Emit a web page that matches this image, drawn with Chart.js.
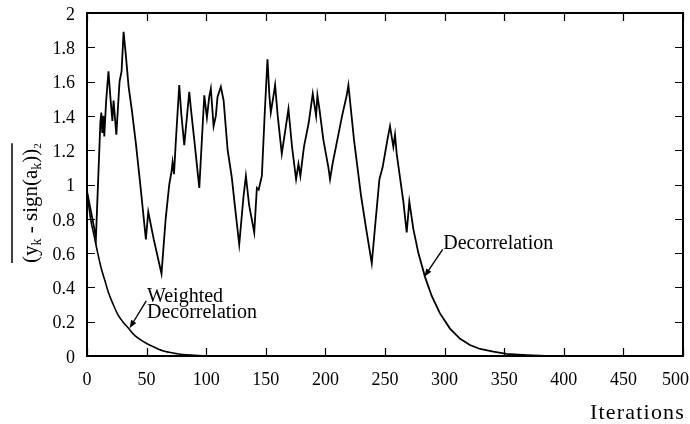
<!DOCTYPE html>
<html>
<head>
<meta charset="utf-8">
<script src="https://cdn.jsdelivr.net/npm/chart.js@4.4.0/dist/chart.umd.min.js"></script>
<style>
  html, body { margin: 0; padding: 0; background: #fff; }
  canvas { display: block; }
</style>
</head>
<body>
<canvas id="errCanvas" width="690" height="424"></canvas>
<script>
// tick values on both axes
var xTicks = [0, 50, 100, 150, 200, 250, 300, 350, 400, 450, 500];
var yTicks = [0, 0.2, 0.4, 0.6, 0.8, 1, 1.2, 1.4, 1.6, 1.8, 2];

// plain decorrelation run
var decorIter = [0, 4, 7.5, 9.5, 11.2, 12, 12.8, 13.8, 14.5, 16, 18, 19.5, 21.3, 22.3, 24.6, 27.3, 29, 30.7,
    32.5, 34.9, 37.7, 41, 45, 49.4, 51.4, 56, 62.5, 66, 69, 71, 71.8, 73, 74.5, 77.4, 79, 81.6, 85.8, 87.2,
    90, 94.2, 98.4, 100.6, 102.5, 103.9, 106.2, 108.1, 109.5, 112.3, 114.6, 118, 121.5, 124, 127.7, 131.3,
    133.3, 136, 140.3, 142.5, 144, 146.7, 149, 151.4, 153, 154.2, 156.5, 157.8, 160, 163.4, 166, 169, 172,
    175.4, 177.4, 179, 182, 186, 189.4, 192.2, 193.3, 195, 198.3, 202.5, 203.9, 206, 210, 214, 217.9, 219.3,
    224, 230, 234, 238.9, 242, 245.3, 248, 250, 252, 254.2, 257, 258.4, 259.8, 263, 265.4, 268.2, 270.4,
    273.8, 278, 283.6, 289.2, 296, 304.5, 313, 321.3, 329.7, 340.9, 352, 369, 385];
var decorErr = [0.96, 0.82, 0.69, 1.05, 1.36, 1.42, 1.30, 1.40, 1.28, 1.48, 1.66, 1.52, 1.37, 1.49, 1.29, 1.60, 1.66, 1.89,
    1.76, 1.57, 1.43, 1.24, 0.98, 0.68, 0.84, 0.68, 0.48, 0.80, 1.00, 1.08, 1.13, 1.06, 1.25, 1.58, 1.42, 1.23, 1.54, 1.44,
    1.26, 0.98, 1.52, 1.39, 1.51, 1.56, 1.34, 1.40, 1.51, 1.57, 1.49, 1.20, 1.04, 0.88, 0.65, 0.93,
    1.05, 0.88, 0.72, 0.98, 0.97, 1.05, 1.40, 1.73, 1.52, 1.42, 1.52, 1.58, 1.40, 1.18, 1.30, 1.44, 1.22,
    1.03, 1.12, 1.05, 1.22, 1.36, 1.53, 1.40, 1.52, 1.44, 1.26, 1.10, 1.03, 1.12, 1.26, 1.40, 1.52, 1.58,
    1.26, 0.93, 0.75, 0.54, 0.78, 1.03, 1.10, 1.18, 1.26, 1.34, 1.22, 1.29, 1.18, 1.02, 0.90, 0.72, 0.90,
    0.74, 0.60, 0.46, 0.35, 0.25, 0.16, 0.10, 0.064, 0.041, 0.025, 0.012, 0.005, 0];

// weighted decorrelation run
var weightedIter = [0, 3, 6, 9, 12, 15, 18, 22, 26, 30, 35, 40, 45, 50, 55, 60, 65, 70, 75, 80, 90, 100];
var weightedErr = [0.96, 0.80, 0.70, 0.60, 0.51, 0.44, 0.37, 0.30, 0.24, 0.20, 0.16, 0.12, 0.094, 0.073, 0.056,
    0.04, 0.028, 0.02, 0.014, 0.009, 0.004, 0];

var serif = "'Liberation Serif', 'Times New Roman', serif";

function toPoints(xs, ys) {
    return xs.map(function (x, i) { return { x: x, y: ys[i] }; });
}

// curve labels, anchored in data units
var notes = [
    { lines: ['Weighted', 'Decorrelation'], x: 50.3, y: 0.317, from: [49.7, 0.322], to: [35.7, 0.162] },
    { lines: ['Decorrelation'], x: 298.9, y: 0.622, from: [298.4, 0.622], to: [283, 0.462] }
];

function arrow(ctx, x1, y1, x2, y2) {
    var a = Math.atan2(y2 - y1, x2 - x1);
    var len = 8, half = 3;
    ctx.beginPath();
    ctx.moveTo(x1, y1);
    ctx.lineTo(x2 - Math.cos(a) * len * 0.8, y2 - Math.sin(a) * len * 0.8);
    ctx.stroke();
    ctx.beginPath();
    ctx.moveTo(x2, y2);
    ctx.lineTo(x2 - Math.cos(a) * len - Math.sin(a) * half, y2 - Math.sin(a) * len + Math.cos(a) * half);
    ctx.lineTo(x2 - Math.cos(a) * len + Math.sin(a) * half, y2 - Math.sin(a) * len - Math.cos(a) * half);
    ctx.closePath();
    ctx.fill();
}

// frame with inward ticks on all sides, x labels, curve notes and axis titles
var framePlugin = {
    id: 'frame',
    afterDraw: function (chart) {
        var ctx = chart.ctx;
        var xs = chart.scales.x, ys = chart.scales.y;
        var left = xs.getPixelForValue(0), right = xs.getPixelForValue(500);
        var top = ys.getPixelForValue(2), bottom = ys.getPixelForValue(0);
        var tick = 8;
        ctx.save();
        ctx.strokeStyle = '#000';
        ctx.fillStyle = '#000';
        ctx.lineWidth = 2;
        ctx.beginPath();
        ctx.moveTo(left, top);
        ctx.lineTo(right, top);
        ctx.lineTo(right, bottom);
        ctx.lineTo(left, bottom);
        ctx.closePath();
        ctx.stroke();

        ctx.lineWidth = 1.2;
        ctx.beginPath();
        xTicks.forEach(function (v) {
            var px = Math.round(xs.getPixelForValue(v)) + 0.5;
            ctx.moveTo(px, bottom); ctx.lineTo(px, bottom - tick);
            ctx.moveTo(px, top); ctx.lineTo(px, top + tick);
        });
        yTicks.forEach(function (v) {
            var py = Math.round(ys.getPixelForValue(v)) + 0.5;
            ctx.moveTo(left, py); ctx.lineTo(left + tick, py);
            ctx.moveTo(right, py); ctx.lineTo(right - tick, py);
        });
        ctx.stroke();

        // x tick labels, the last one kept inside the canvas
        ctx.font = '18px ' + serif;
        ctx.textAlign = 'center';
        ctx.textBaseline = 'middle';
        xTicks.forEach(function (v) {
            var t = String(v);
            var w = ctx.measureText(t).width;
            var px = Math.min(xs.getPixelForValue(v), chart.width - w / 2 - 1);
            ctx.fillText(t, px, 380);
        });

        // curve notes
        ctx.font = '20px ' + serif;
        ctx.textBaseline = 'alphabetic';
        ctx.textAlign = 'left';
        ctx.lineWidth = 1.4;
        notes.forEach(function (n) {
            var tx = xs.getPixelForValue(n.x), ty = ys.getPixelForValue(n.y);
            var lead = n.lines.length > 1 ? 16.6 : 0;
            n.lines.forEach(function (t, i) {
                ctx.fillText(t, tx, ty + i * lead);
            });
            arrow(ctx, xs.getPixelForValue(n.from[0]), ys.getPixelForValue(n.from[1]),
                xs.getPixelForValue(n.to[0]), ys.getPixelForValue(n.to[1]));
        });

        // x title
        ctx.font = '22px ' + serif;
        ctx.letterSpacing = '1.2px';
        ctx.fillText('Iterations', 590, 419);
        ctx.letterSpacing = '0px';

        // y title, rotated: overline over (y_k - sign(a_k))^2
        ctx.translate(37, 263);
        ctx.rotate(-Math.PI / 2);
        var cx = 0;
        function put(t, size, dy) {
            ctx.font = size + 'px ' + serif;
            ctx.fillText(t, cx, dy);
            cx += ctx.measureText(t).width;
        }
        put('(y', 21, 0);
        put('k', 14, 4);
        put(' - sign(a', 21, 0);
        put('k', 14, 4);
        put('))', 21, 0);
        put('2', 11, 4);
        ctx.lineWidth = 1.5;
        ctx.beginPath();
        ctx.moveTo(0, -25);
        ctx.lineTo(cx, -25);
        ctx.stroke();
        ctx.restore();
    }
};

new Chart(document.getElementById('errCanvas'), {
    type: 'line',
    data: {
        datasets: [
            {
                label: 'Decorrelation',
                data: toPoints(decorIter, decorErr),
                borderColor: '#000',
                borderWidth: 1.8,
                pointRadius: 0,
                tension: 0
            },
            {
                label: 'Weighted Decorrelation',
                data: toPoints(weightedIter, weightedErr),
                borderColor: '#000',
                borderWidth: 1.6,
                pointRadius: 0,
                cubicInterpolationMode: 'monotone'
            }
        ]
    },
    options: {
        responsive: false,
        devicePixelRatio: 1,
        animation: false,
        layout: { padding: { top: 13, right: 7, left: 0, bottom: 0 } },
        plugins: {
            legend: { display: false },
            tooltip: { enabled: false }
        },
        scales: {
            x: {
                type: 'linear',
                min: 0,
                max: 500,
                grid: { display: false, drawTicks: false },
                border: { display: false },
                afterBuildTicks: function (scale) {
                    scale.ticks = xTicks.map(function (v) { return { value: v }; });
                },
                afterFit: function (scale) {
                    scale.height = 68;
                    scale.paddingLeft = 0;
                    scale.paddingRight = 0;
                },
                ticks: { display: false }
            },
            y: {
                type: 'linear',
                min: 0,
                max: 2,
                grid: { display: false, drawTicks: false },
                border: { display: false },
                afterBuildTicks: function (scale) {
                    scale.ticks = yTicks.map(function (v) { return { value: v }; });
                },
                afterFit: function (scale) {
                    scale.width = 87;
                    scale.paddingTop = 0;
                    scale.paddingBottom = 0;
                },
                ticks: {
                    color: '#000',
                    padding: 12,
                    labelOffset: 2,
                    font: { family: serif, size: 18 },
                    callback: function (v) { return String(Math.round(v * 10) / 10); }
                }
            }
        }
    },
    plugins: [framePlugin]
});
</script>
</body>
</html>
